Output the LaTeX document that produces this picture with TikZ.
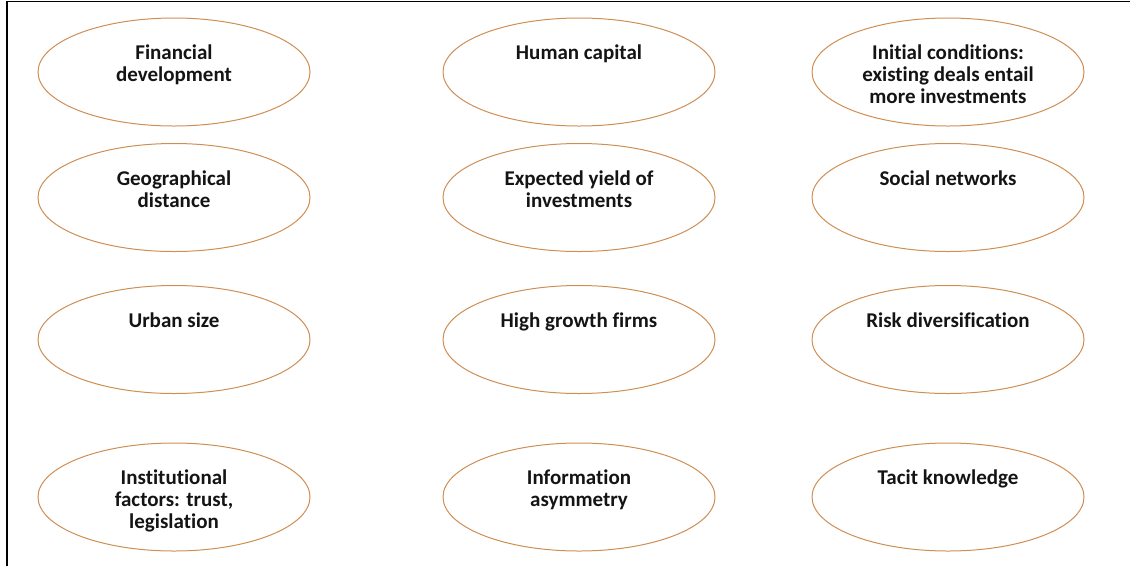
\documentclass[tikz,border=0pt]{standalone}
\usepackage{fontspec}
\setmainfont{Carlito}[Ligatures=NoCommon]
\usetikzlibrary{shapes.geometric}
\definecolor{ringcol}{RGB}{206,142,84}
\definecolor{inkcol}{RGB}{20,20,20}
\begin{document}
\begin{tikzpicture}[x=1pt,y=-1pt,
  oval/.style={draw=ringcol, line width=1pt, ellipse, minimum width=272pt,
               minimum height=108pt, inner sep=0pt},
  caption/.style={font=\fontsize{21}{22}\selectfont\bfseries, align=center,
                  anchor=base, inner sep=0pt, text=inkcol}]
\useasboundingbox (0,0) rectangle (1130,566);
% frame: top and left rules
\coordinate (frameBL) at (7,566);
\coordinate (frameTL) at (7,1.5);
\coordinate (frameTR) at (1130,1.5);
\draw[line width=1.2pt] (frameBL) -- (frameTL) -- (frameTR);

% captions are placed by the baseline of their last line

% row 1
\node[oval] (e11) at (174,72) {};
\node[oval] (e12) at (579,72) {};
\node[oval] (e13) at (948,72) {};
\node[caption] (t11) at (174,81) {Financial\\development};
\node[caption] (t12) at (579,59) {Human capital};
\node[caption] (t13) at (948,103) {Initial conditions:\\existing deals entail\\more investments};

% row 2
\node[oval] (e21) at (174,197.5) {};
\node[oval] (e22) at (579,197.5) {};
\node[oval] (e23) at (948,197.5) {};
\node[caption] (t21) at (174,207) {Geographical\\distance};
\node[caption] (t22) at (579,207) {Expected yield of\\investments};
\node[caption] (t23) at (948,185) {Social networks};

% row 3
\node[oval] (e31) at (174,339.5) {};
\node[oval] (e32) at (579,339.5) {};
\node[oval] (e33) at (948,339.5) {};
\node[caption] (t31) at (174,327) {Urban size};
\node[caption] (t32) at (579,327) {High growth firms};
\node[caption] (t33) at (948,327) {Risk diversification};

% row 4
\node[oval] (e41) at (174,497) {};
\node[oval] (e42) at (579,497) {};
\node[oval] (e43) at (948,497) {};
\node[caption] (t41) at (174,528) {Institutional\\factors: trust,\\legislation};
\node[caption] (t42) at (579,506) {Information\\asymmetry};
\node[caption] (t43) at (948,484) {Tacit knowledge};
\end{tikzpicture}
\end{document}
